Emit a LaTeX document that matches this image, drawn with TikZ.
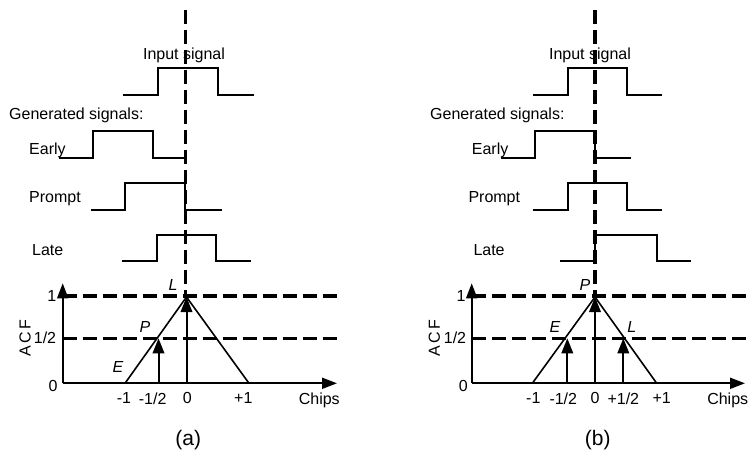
\documentclass[tikz,border=0pt]{standalone}
\usepackage{fontspec}
\setmainfont{Liberation Sans}
\usetikzlibrary{arrows.meta}
\begin{document}
\begin{tikzpicture}[x=1pt,y=-1pt,
  sig/.style={line width=1.8pt},
  hdash/.style={line width=3.6pt, dash pattern=on 14pt off 6pt},
  lbl/.style={font=\fontsize{16}{19}\selectfont, inner sep=0pt},
  captext/.style={font=\fontsize{21}{25}\selectfont, inner sep=0pt},
  itl/.style={font=\fontsize{16}{19}\selectfont\itshape, inner sep=0pt},
  axisarr/.style={line width=1.8pt, -{Triangle[length=15pt,width=11pt]}},
  corr/.style={line width=2pt, -{Triangle[length=15pt,width=11.5pt]}},
  tri/.style={line width=1.6pt}]
\useasboundingbox (0,0) rectangle (749,455);

% ================= panel (a) =================
\node[lbl] (inA) at (184,55) {Input signal};
\draw[sig] (123,94.7) -- (157.7,94.7) -- (157.7,67.7) -- (218,67.7) -- (218,94.7) -- (254,94.7);
\node[lbl, anchor=west] (genA) at (9,115) {Generated signals:};
\node[lbl, anchor=west] (earlyA) at (29,150) {Early};
\draw[sig] (59,158) -- (92.7,158) -- (92.7,131) -- (152.7,131) -- (152.7,158) -- (185,158);
\node[lbl, anchor=west] (promptA) at (29,199) {Prompt};
\draw[sig] (90.7,210) -- (125,210) -- (125,183) -- (185,183) -- (185,210) -- (221.7,210);
\node[lbl, anchor=west] (lateA) at (32,250) {Late};
\draw[sig] (121.7,260.7) -- (156.7,260.7) -- (156.7,235) -- (216,235) -- (216,260.7) -- (250.7,260.7);

\coordinate (oA) at (62.7,383.3);
\coordinate (yA) at (62.7,283.3);
\coordinate (xA) at (337,383.3);
\coordinate (mA) at (125,383.3);
\coordinate (pkA) at (186.5,297);
\coordinate (rA) at (249,383.3);
\draw[hdash] (62.7,296) -- (338,296);
\draw[hdash] (62.7,338.3) -- (338,338.3);
\draw[axisarr] (oA) -- (yA);
\draw[axisarr] (oA) -- (xA);
\draw[tri] (mA) -- (pkA) -- (rA);
\coordinate (b0A) at (186.5,383.3);
\coordinate (bhA) at (158.5,383.3);
\coordinate (thA) at (158.5,338.3);
\draw[corr] (b0A) -- (pkA);
\draw[corr] (bhA) -- (thA);
\draw[hdash] (185.5,10) -- (185.5,296);

\node[lbl] (oneA) at (51.7,296) {1};
\node[lbl] (halfA) at (45,338) {1/2};
\node[lbl] (zeroA) at (53,385.7) {0};
\node[lbl, rotate=90] (acfA) at (25,338) {A\,C\,F};
\node[itl] (LA) at (173,285) {L};
\node[itl] (PA) at (145,326.7) {P};
\node[itl] (EA) at (118,366.7) {E};
\node[lbl] (t1A) at (124,398.3) {-1};
\node[lbl] (t2A) at (152.7,398.3) {-1/2};
\node[lbl] (t3A) at (187.3,398.3) {0};
\node[lbl] (t4A) at (243.3,398.3) {+1};
\node[lbl] (chA) at (319.3,400) {Chips};
\node[captext] (capA) at (188.3,440) {(a)};

% ================= panel (b) =================
\node[lbl] (inB) at (590,55) {Input signal};
\draw[sig] (532.7,94.7) -- (567.7,94.7) -- (567.7,67.7) -- (627.3,67.7) -- (627.3,94.7) -- (661.7,94.7);
\node[lbl, anchor=west] (genB) at (430,115) {Generated signals:};
\node[lbl, anchor=west] (earlyB) at (471.7,150) {Early};
\draw[sig] (501,158) -- (535,158) -- (535,131) -- (595,131) -- (595,158) -- (631,158);
\node[lbl, anchor=west] (promptB) at (468.3,199) {Prompt};
\draw[sig] (532.7,210) -- (567.7,210) -- (567.7,183) -- (627.3,183) -- (627.3,210) -- (661.7,210);
\node[lbl, anchor=west] (lateB) at (473.3,250) {Late};
\draw[sig] (560,260.7) -- (595,260.7) -- (595,235) -- (656.7,235) -- (656.7,260.7) -- (691,260.7);

\coordinate (oB) at (471.7,383.3);
\coordinate (yB) at (471.7,283.3);
\coordinate (xB) at (745,383.3);
\coordinate (mB) at (532.3,383.3);
\coordinate (pkB) at (595,297);
\coordinate (rB) at (656.7,383.3);
\draw[hdash] (471.7,296) -- (749,296);
\draw[hdash] (471.7,338.3) -- (749,338.3);
\draw[axisarr] (oB) -- (yB);
\draw[axisarr] (oB) -- (xB);
\draw[tri] (mB) -- (pkB) -- (rB);
\coordinate (b0B) at (595,383.3);
\coordinate (bmB) at (567.3,383.3);
\coordinate (tmB) at (567.3,338.3);
\coordinate (bpB) at (623.3,383.3);
\coordinate (tpB) at (623.3,338.3);
\draw[corr] (b0B) -- (pkB);
\draw[corr] (bmB) -- (tmB);
\draw[corr] (bpB) -- (tpB);
\draw[hdash] (595,10) -- (595,296);

\node[lbl] (oneB) at (461,296) {1};
\node[lbl] (halfB) at (455,338) {1/2};
\node[lbl] (zeroB) at (463.3,385.7) {0};
\node[lbl, rotate=90] (acfB) at (434.3,338) {A\,C\,F};
\node[itl] (PB) at (585,285) {P};
\node[itl] (EB) at (555,326.7) {E};
\node[itl] (LB) at (631.7,326.7) {L};
\node[lbl] (t1B) at (533.3,398.3) {-1};
\node[lbl] (t2B) at (563.3,398.3) {-1/2};
\node[lbl] (t3B) at (595,398.3) {0};
\node[lbl] (t4B) at (623.3,398.3) {+1/2};
\node[lbl] (t5B) at (661.7,398.3) {+1};
\node[lbl] (chB) at (727.7,400) {Chips};
\node[captext] (capB) at (597.7,440) {(b)};
\end{tikzpicture}
\end{document}
